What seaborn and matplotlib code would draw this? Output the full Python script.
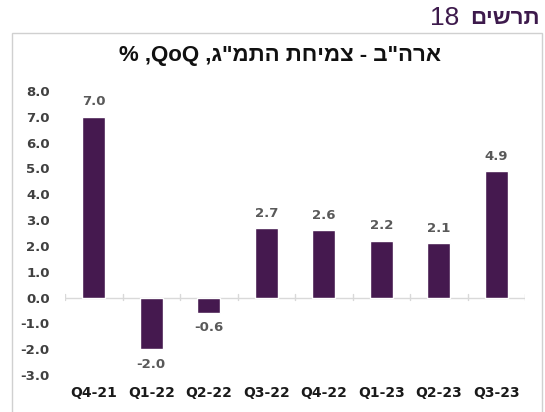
import matplotlib
matplotlib.use("Agg")
import matplotlib.pyplot as plt
import seaborn as sns
import pandas as pd
from matplotlib.patches import Rectangle
from matplotlib.ticker import MultipleLocator

# data
quarters = ["Q4-21", "Q1-22", "Q2-22", "Q3-22", "Q4-22", "Q1-23", "Q2-23", "Q3-23"]
growth = [7.0, -2.0, -0.6, 2.7, 2.6, 2.2, 2.1, 4.9]

# hebrew text written in visual (left-to-right) order
header_num = "18"
header_word = "תרשים"[::-1]
title = "% ,QoQ ," + "ארה\"ב - צמיחת התמ\"ג"[::-1]

BAR = "#45194F"
HEAD = "#3D1A4C"
FONTS = ["Liberation Sans", "DejaVu Sans"]

sns.set_style("white")
plt.rcParams["font.family"] = ["DejaVu Sans"]

df = pd.DataFrame({"q": quarters, "v": growth})

fig = plt.figure(figsize=(5.45, 4.12), dpi=100)
ax = fig.add_axes([65 / 545, 1 - 375 / 412, 460 / 545, 284 / 412])

sns.barplot(data=df, x="q", y="v", color=BAR, width=0.4, saturation=1, ax=ax)

ax.set_ylim(-3, 8)
ax.set_xlim(-0.5, len(quarters) - 0.5)
ax.yaxis.set_major_locator(MultipleLocator(1))
ax.yaxis.set_major_formatter(lambda v, p: f"{v:.1f}")
ax.set_xlabel("")
ax.set_ylabel("")

for s in ax.spines.values():
    s.set_visible(False)
ax.axhline(0, color="#D9D9D9", lw=1, zorder=0)
# small ticks on the zero line between categories
for i in range(len(quarters) + 1):
    ax.plot([i - 0.5, i - 0.5], [-0.1, 0.15], color="#D9D9D9", lw=1, zorder=0)

ax.tick_params(axis="y", length=0, pad=11, labelsize=9.5, labelcolor="#404040")
ax.tick_params(axis="x", length=0, labelsize=10, labelcolor="#1a1a1a", pad=8)
for lbl in ax.get_yticklabels() + ax.get_xticklabels():
    lbl.set_fontweight("bold")

for c in ax.containers:
    ax.bar_label(c, fmt="%.1f", padding=6, fontsize=9.5, fontweight="bold",
                 color="#595959")

# frame around the chart
fig.patches.append(Rectangle((12 / 545, -0.01), 530 / 545, 1 - 33 / 412 + 0.01,
                             transform=fig.transFigure, fill=False,
                             edgecolor="#D0D0D0", lw=1))

fig.text(280 / 545, 1 - 55 / 412, title, ha="center", va="center",
         fontsize=16, fontweight="bold", family=FONTS, color="#111111")

# header: bold word on the right, number to its left
word = fig.text(540 / 545, 1 - 19 / 412, header_word, ha="right", va="center",
                fontsize=16, fontweight="bold", family=FONTS, color=HEAD)
fig.canvas.draw()
x0 = word.get_window_extent().x0
fig.text((x0 - 11) / 545, 1 - 18 / 412, header_num, ha="right", va="center",
         fontsize=19, family=FONTS, color=HEAD)

fig.savefig("out.png", dpi=100)
